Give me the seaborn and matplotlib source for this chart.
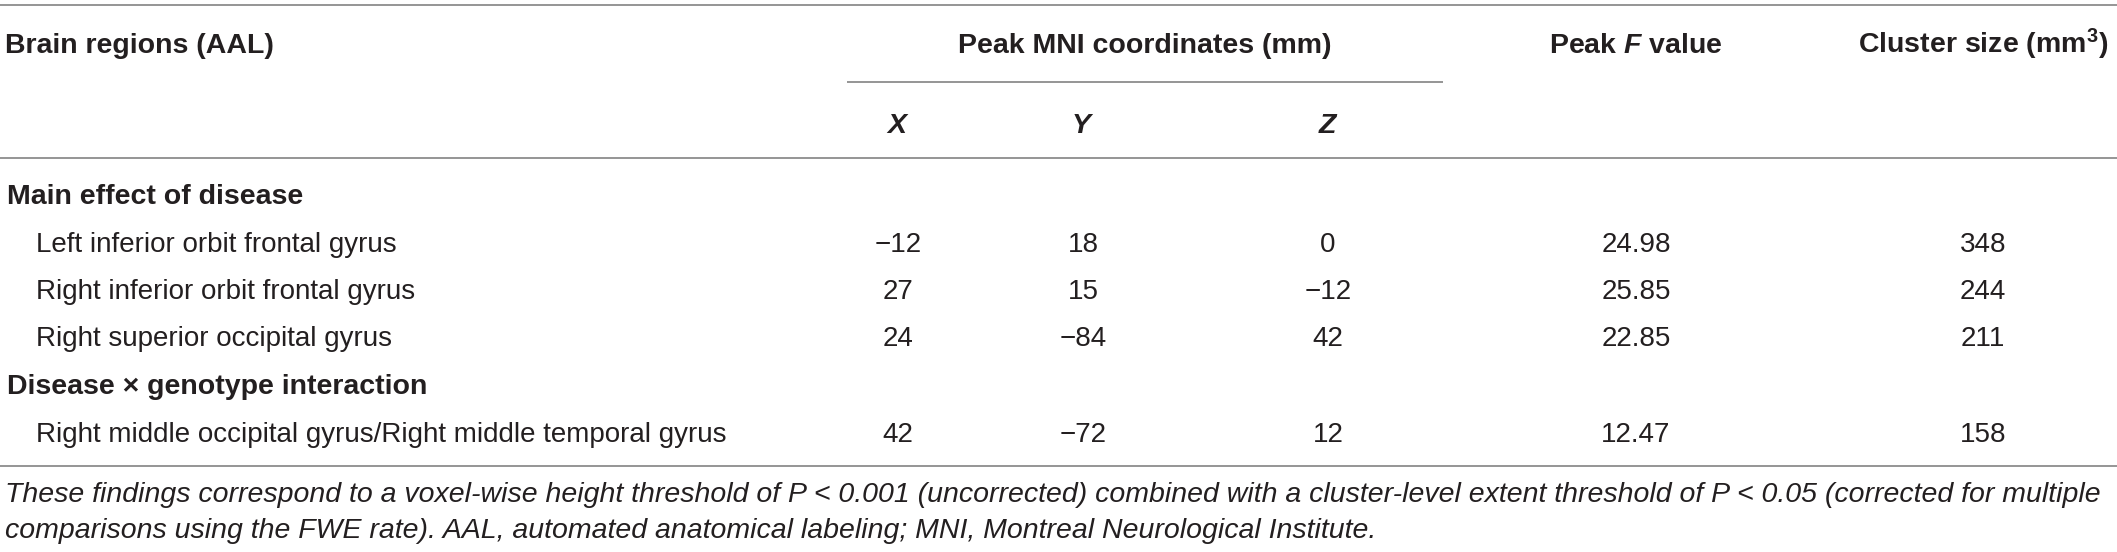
import matplotlib
matplotlib.use("Agg")
import matplotlib.pyplot as plt
import seaborn as sns

sns.set_theme(style="white")
plt.rcParams['font.family'] = ['Liberation Sans', 'DejaVu Sans']
plt.rcParams['mathtext.fontset'] = 'custom'
plt.rcParams['mathtext.rm'] = 'Liberation Sans'
plt.rcParams['mathtext.it'] = 'Liberation Sans:italic'
plt.rcParams['mathtext.bf'] = 'Liberation Sans:bold'
plt.rcParams['mathtext.bfit'] = 'Liberation Sans:italic:bold'

# table content
col_headers = ["Brain regions (AAL)", "Peak MNI coordinates (mm)",
               r"Peak $\mathbfit{F}$ value", r"Cluster size (mm$^\mathbf{3}$)"]
coord_labels = [r"$\mathbfit{X}$", r"$\mathbfit{Y}$", r"$\mathbfit{Z}$"]

groups = ["Main effect of disease", "Disease \u00d7 genotype interaction"]
regions = [
    ["Left inferior orbit frontal gyrus",
     "Right inferior orbit frontal gyrus",
     "Right superior occipital gyrus"],
    ["Right middle occipital gyrus/Right middle temporal gyrus"],
]
x_mni = [[-12, 27, 24], [42]]
y_mni = [[18, 15, -84], [-72]]
z_mni = [[0, -12, 42], [12]]
peak_f = [[24.98, 25.85, 22.85], [12.47]]
cluster = [[348, 244, 211], [158]]

footnote = ["These findings correspond to a voxel-wise height threshold of P < 0.001 (uncorrected) "
            "combined with a cluster-level extent threshold of P < 0.05 (corrected for multiple",
            "comparisons using the FWE rate). AAL, automated anatomical labeling; MNI, Montreal Neurological Institute."]

W, H = 2117, 552
fig = plt.figure(figsize=(W / 100, H / 100), dpi=100)
ax = fig.add_axes([0, 0, 1, 1])
ax.set_xlim(0, W)
ax.set_ylim(H, 0)
ax.axis("off")

ink = "#231f20"
rule = "#8c8c8c"
fs = 20
fsb = 20.5

def num(v):
    s = f"{v:g}" if not isinstance(v, float) else f"{v:.2f}"
    return s.replace("-", "\u2212")

# rules
for yy in (5, 158, 466):
    ax.plot([0, W], [yy, yy], color=rule, lw=1.3, solid_capstyle="butt")
ax.plot([847, 1443], [82, 82], color=rule, lw=1.3, solid_capstyle="butt")

# headers
ax.text(5, 53, col_headers[0], fontsize=fsb, fontweight="bold", color=ink, va="baseline")
ax.text(1145, 53, col_headers[1], fontsize=fsb, fontweight="bold", color=ink, va="baseline", ha="center")
ax.text(1636, 53, col_headers[2], fontsize=fsb, fontweight="bold", color=ink, va="baseline", ha="center")
ax.text(1983, 53, col_headers[3], fontsize=fsb, fontweight="bold", color=ink, va="baseline", ha="center")
col_x = [898, 1083, 1328]
for cx, lab in zip(col_x, coord_labels):
    ax.text(cx, 133, lab, fontsize=fsb, color=ink, va="baseline", ha="center")

# body
y = 204
for g, regs, xs, ys, zs, fv, cs in zip(groups, regions, x_mni, y_mni, z_mni, peak_f, cluster):
    ax.text(7, y, g, fontsize=fsb, fontweight="bold", color=ink, va="baseline")
    y += 47.5
    for r, a, b, c, f, k in zip(regs, xs, ys, zs, fv, cs):
        ax.text(36, y, r, fontsize=fs, color=ink, va="baseline")
        for cx, v in zip(col_x + [1636, 1983], [a, b, c, f, k]):
            ax.text(cx, y, num(v), fontsize=fs, color=ink, va="baseline", ha="center")
        y += 47.5

ax.text(5, 502, footnote[0], fontsize=20.5, style="italic", color=ink, va="baseline")
ax.text(5, 538, footnote[1], fontsize=20.5, style="italic", color=ink, va="baseline")

fig.savefig("out.png", dpi=100, facecolor="white")
